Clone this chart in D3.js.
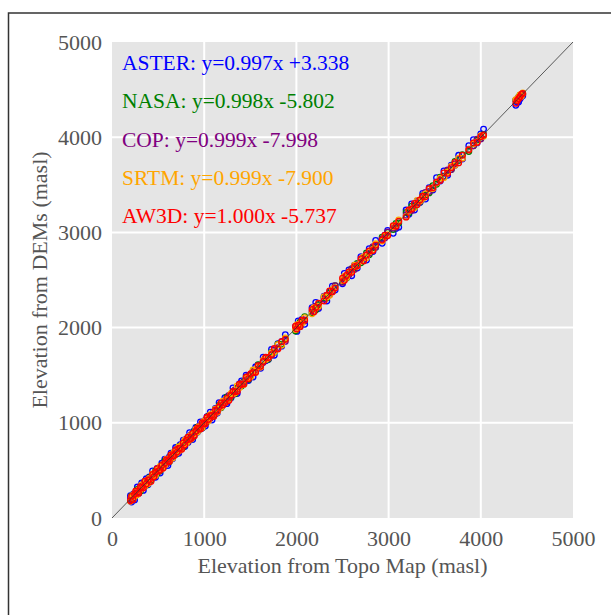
<!DOCTYPE html>
<html>
<head>
<meta charset="utf-8">
<script src="https://cdn.jsdelivr.net/npm/d3@7"></script>
<style>
  body { margin: 0; background: #fff; }
  svg { display: block; }
</style>
</head>
<body>
<div id="chart"></div>
<script>
var topo = [200,212,228,245,258,275,290,308,322,340,356,372,390,405,423,440,455,472,490,506,
  522,540,556,573,590,606,622,640,657,673,690,706,724,740,757,773,790,808,824,842,
  858,875,892,910,926,944,960,978,995,1012,1030,1048,1066,1085,1104,1122,1142,1162,1182,1202,
  1224,1246,1268,1290,1312,1335,1358,1382,1405,1430,1455,1480,1505,1530,1558,1585,1612,1640,1668,1695,
  1730,1760,1800,1840,1880,1990,2005,2020,2040,2060,2090,2170,2190,2210,2240,2300,2330,2360,2390,2420,
  2500,2520,2545,2570,2600,2630,2660,2700,2730,2760,2790,2830,2860,2930,2960,2990,3050,3080,3110,3190,
  3220,3250,3280,3310,3340,3370,3400,3440,3480,3520,3560,3600,3640,3680,3720,3760,3800,3870,3920,3960,
  4000,4030,4380,4395,4410,4425,4440,4455];

// elevation from each DEM at the same points
var aster = [235,167,248,190,268,325,260,303,367,290,371,412,350,430,403,495,445,427,520,511,
  472,575,531,618,575,551,642,680,622,683,740,686,679,770,752,818,750,823,794,897,
  858,825,917,950,901,934,1010,943,1015,967,1065,1033,1111,1030,1114,1152,1102,1212,1162,1197,
  1264,1201,1283,1260,1367,1325,1308,1407,1440,1405,1500,1445,1510,1480,1588,1605,1572,1690,1653,1665,
  1770,1710,1830,1805,1925,2010,1960,2070,2010,2085,2035,2210,2170,2265,2200,2330,2280,2375,2435,2395,
  2460,2570,2530,2605,2545,2655,2625,2745,2710,2710,2830,2800,2915,2885,2970,3020,2990,3040,3055,3235,
  3190,3300,3235,3330,3315,3410,3350,3470,3445,3575,3540,3645,3600,3705,3705,3810,3770,3910,3975,3940,
  4035,4085,4335,4365,4370,4400,4425,4435];
var nasa = [190,232,198,250,238,300,285,280,337,325,384,347,390,423,393,450,443,494,468,512,
  496,554,548,599,572,608,592,660,653,685,666,714,748,726,755,745,806,798,846,822,
  862,849,910,904,954,928,958,948,1007,1020,1010,1072,1054,1085,1076,1140,1134,1182,1158,1212,
  1210,1272,1264,1268,1326,1305,1364,1398,1387,1432,1477,1454,1499,1540,1538,1609,1600,1638,1686,1667,
  1740,1740,1825,1825,1885,1965,2020,2010,2060,2055,2115,2155,2200,2185,2240,2315,2310,2365,2380,2440,
  2485,2530,2520,2570,2620,2620,2675,2680,2735,2785,2765,2840,2845,2950,2955,3000,3030,3095,3100,3210,
  3205,3275,3270,3310,3320,3385,3395,3415,3490,3505,3580,3590,3645,3660,3745,3755,3815,3850,3910,3970,
  3985,4030,4385,4390,4420,4440,4435,4455];
var cop = [210,187,223,260,238,280,260,320,310,360,338,372,362,419,417,458,431,470,500,490,
  528,518,572,563,564,618,618,658,637,673,676,726,696,746,771,755,784,830,800,846,
  874,863,866,920,924,964,940,980,981,1026,1022,1066,1044,1081,1116,1096,1150,1152,1198,1184,
  1224,1222,1288,1282,1296,1347,1330,1386,1419,1418,1451,1498,1483,1536,1548,1599,1586,1634,1678,1675,
  1710,1765,1790,1855,1855,1990,2015,2005,2035,2080,2070,2175,2180,2225,2215,2300,2340,2345,2385,2440,
  2475,2530,2540,2555,2615,2610,2660,2710,2705,2765,2780,2850,2845,2930,2940,3005,3045,3055,3120,3180,
  3225,3230,3295,3305,3325,3370,3420,3430,3455,3530,3555,3585,3655,3660,3720,3770,3775,3875,3910,3980,
  3980,4025,4390,4380,4410,4415,4445,4450];
var srtm = [175,220,240,227,280,247,294,296,348,334,336,388,360,415,409,464,453,446,504,496,
  542,516,562,557,618,598,600,652,627,691,692,688,746,714,767,769,816,788,812,858,
  830,881,884,934,904,958,944,948,1015,1012,1040,1022,1084,1071,1100,1144,1112,1170,1164,1228,
  1214,1250,1244,1306,1306,1315,1386,1368,1407,1402,1467,1472,1485,1554,1542,1591,1586,1658,1664,1683,
  1735,1745,1820,1815,1890,1980,2030,2000,2040,2045,2105,2145,2210,2205,2225,2325,2320,2340,2400,2420,
  2495,2540,2525,2580,2590,2655,2645,2700,2745,2735,2795,2820,2880,2910,2960,2975,3060,3075,3130,3165,
  3230,3250,3260,3335,3330,3355,3405,3455,3460,3520,3570,3575,3635,3695,3705,3780,3780,3870,3930,3950,
  4015,4010,4395,4395,4420,4445,4430,4465];
var aw3d = [180,227,193,250,283,265,260,328,322,315,386,357,400,400,383,458,433,480,518,494,
  504,552,524,575,612,598,594,665,655,653,716,692,730,734,721,789,766,818,848,826,
  836,889,862,914,946,938,934,1000,991,988,1058,1036,1074,1077,1066,1136,1122,1168,1208,1188,
  1208,1256,1234,1290,1330,1325,1330,1406,1403,1408,1479,1464,1517,1526,1528,1601,1594,1644,1688,1685,
  1715,1780,1775,1850,1875,2015,1985,2025,2010,2075,2080,2190,2165,2210,2255,2280,2340,2385,2375,2415,
  2520,2495,2550,2585,2580,2640,2650,2725,2700,2760,2805,2810,2865,2920,2970,2965,3070,3065,3115,3160,
  3235,3245,3305,3290,3340,3380,3375,3460,3470,3525,3545,3625,3620,3680,3735,3730,3810,3865,3940,3945,
  4005,4020,4355,4385,4405,4425,4450,4460];

var seriesNames = ["ASTER", "NASA", "COP", "SRTM", "AW3D"];
var seriesColors = ["blue", "green", "purple", "orange", "red"];
var fitLabels = ["y=0.997x +3.338", "y=0.998x -5.802", "y=0.999x -7.998", "y=0.999x -7.900", "y=1.000x -5.737"];
var tickValues = [0, 1000, 2000, 3000, 4000, 5000];

var width = 611, height = 615;
var margin = { left: 112, right: 38, top: 42, bottom: 97 };
var font = "'Liberation Serif', 'Times New Roman', serif";

var svg = d3.select("#chart").append("svg")
    .attr("width", width)
    .attr("height", height);

// outer frame of the figure
svg.append("rect")
    .attr("x", 8.5).attr("y", 13)
    .attr("width", 640).attr("height", 640)
    .attr("fill", "none")
    .attr("stroke", "#333")
    .attr("stroke-width", 1.5);

var x = d3.scaleLinear().domain([0, 5000]).range([margin.left, width - margin.right]);
var y = d3.scaleLinear().domain([0, 5000]).range([height - margin.bottom, margin.top]);

// panel background
svg.append("rect")
    .attr("x", x(0)).attr("y", y(5000))
    .attr("width", x(5000) - x(0)).attr("height", y(0) - y(5000))
    .attr("fill", "#e5e5e5");

// grid lines
var inner = tickValues.slice(1, -1);
svg.append("g").selectAll("line").data(inner).enter().append("line")
    .attr("x1", function(d) { return x(d); }).attr("x2", function(d) { return x(d); })
    .attr("y1", y(0)).attr("y2", y(5000))
    .attr("stroke", "#fff").attr("stroke-width", 2);
svg.append("g").selectAll("line").data(inner).enter().append("line")
    .attr("x1", x(0)).attr("x2", x(5000))
    .attr("y1", function(d) { return y(d); }).attr("y2", function(d) { return y(d); })
    .attr("stroke", "#fff").attr("stroke-width", 2);

// axes: labels only, no domain or tick marks
var xAxis = svg.append("g")
    .attr("transform", "translate(0," + y(0) + ")")
    .call(d3.axisBottom(x).tickValues(tickValues).tickSize(0).tickPadding(12).tickFormat(d3.format("d")));
var yAxis = svg.append("g")
    .attr("transform", "translate(" + x(0) + ",0)")
    .call(d3.axisLeft(y).tickValues(tickValues).tickSize(0).tickPadding(10).tickFormat(d3.format("d")));
[xAxis, yAxis].forEach(function(a) {
    a.select(".domain").remove();
    a.selectAll("text")
        .attr("fill", "#555")
        .style("font-family", font)
        .style("font-size", "22px");
});

// scatter points, one layer per DEM
var demValues = [aster, nasa, cop, srtm, aw3d];
demValues.forEach(function(vals, s) {
    svg.append("g").selectAll("circle")
        .data(vals)
        .enter().append("circle")
        .attr("cx", function(d, i) { return x(topo[i]); })
        .attr("cy", function(d) { return y(d); })
        .attr("r", 2.8)
        .attr("fill", "none")
        .attr("stroke", seriesColors[s])
        .attr("stroke-width", 1.3);
});

// 1:1 line
svg.append("line")
    .attr("x1", x(0)).attr("y1", y(0))
    .attr("x2", x(5000)).attr("y2", y(5000))
    .attr("stroke", "#333")
    .attr("stroke-width", 0.8);

// regression equations
svg.append("g").selectAll("text")
    .data(seriesNames)
    .enter().append("text")
    .attr("x", x(0) + 10)
    .attr("y", function(d, i) { return 70 + i * 38.3; })
    .attr("fill", function(d, i) { return seriesColors[i]; })
    .style("font-family", font)
    .style("font-size", "21.5px")
    .text(function(d, i) { return d + ": " + fitLabels[i]; });

// axis titles
svg.append("text")
    .attr("x", (x(0) + x(5000)) / 2)
    .attr("y", 573)
    .attr("text-anchor", "middle")
    .attr("fill", "#555")
    .style("font-family", font)
    .style("font-size", "22px")
    .text("Elevation from Topo Map (masl)");

svg.append("text")
    .attr("transform", "translate(47," + ((y(0) + y(5000)) / 2) + ") rotate(-90)")
    .attr("text-anchor", "middle")
    .attr("fill", "#555")
    .style("font-family", font)
    .style("font-size", "22px")
    .text("Elevation from DEMs (masl)");
</script>
</body>
</html>
